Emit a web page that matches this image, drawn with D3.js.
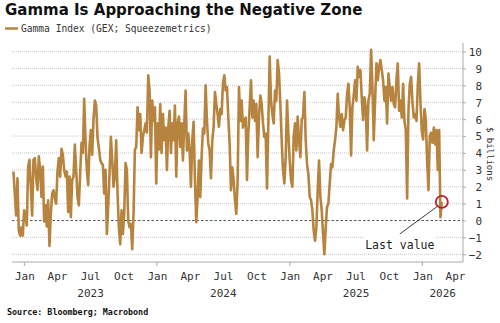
<!DOCTYPE html>
<html>
<head>
<meta charset="utf-8">
<script src="https://cdn.jsdelivr.net/npm/d3@7"></script>
<style>
  body { margin: 0; background: #fff; }
  svg { display: block; }
</style>
</head>
<body>
<script>
// Gamma index, $ billions at regular steps
var startDate = new Date(2022, 11, 2);
var stepDays = 3.675;
var gexValues = [
    2.9, 1.6, 0.3, 2.5, -0.6, -0.9, -0.4, -0.9, 0.6, 0.3, -0.3, 3.2, 3.6, 2.0, 0.3, 3.6, 3.7, 2.5,
    1.8, 3.8, 3.0, 1.4, 3.2, -0.05, 0.9, -0.35, 1.2, -1.5, 0.4, 1.6, 1.8, 1.3, 1.0, 2.9, 3.7, 2.6,
    4.25, 3.9, 3.0, 2.6, 2.9, 0.5, 2.6, 0.2, 2.4, 2.6, 4.5, 3.0, 1.4, 0.9, 2.8, 4.6, 4.0, 7.2,
    4.75, 3.0, 2.1, 4.4, 5.35, 3.9, 6.0, 7.1, 6.8, 4.9, 4.3, 3.6, 3.4, 3.3, 1.6, 3.0, -0.8, 0.8,
    2.8, 4.95, 3.6, 2.0, 2.6, 4.75, 1.6, -0.4, -1.4, 0.6, -0.8, 0.4, 3.4, 3.0, 0.0, -0.4, -0.2, -1.7,
    0.4, 4.2, 4.35, 6.7, 5.35, 6.3, 4.0, 4.95, 5.35, 5.75, 5.2, 8.6, 7.7, 3.75, 7.1, 5.9, 6.7, 2.2,
    5.75, 4.2,
    6.9, 4.0, 6.3, 4.75, 5.5, 3.0, 5.5, 6.5, 4.0, 5.75, 4.75, 6.8, 2.6, 5.75, 6.15, 4.35, 5.75, 3.55,
    5.75, 7.7, 4.15, 5.15, 4.15, 2.0, 4.75, 5.85, 2.4, -0.1, 1.4, 3.55, 1.4, 3.75, 5.45, 5.15, 8.0, 5.9,
    4.55, 4.15, 2.5, 4.75, 5.55, 7.6, 6.9, 6.3, 5.55, 6.6, 6.3, 8.1, 8.6, 7.7, 7.9, 6.1, 4.55, 1.8,
    3.15, 2.4, 1.2, 0.4, 2.4, 7.9,
    5.9, 7.1, 5.5, 5.9, 6.1, 2.4, 5.15, 6.7, 8.3, 6.1, 7.1, 5.9, 6.9, 3.75, 6.1, 7.4, 6.9, 5.75,
    4.95, 5.15, 1.9, 5.75, 9.7, 7.1, 6.3, 5.75, 7.7, 7.1, 9.5, 8.7, 6.9, 4.75, 2.95, 2.2, 3.75, 7.1,
    5.15, 3.55, 2.4, 2.0, 4.95, 5.75, 4.15, 6.15, 4.75, 3.75, 5.95, 6.15, 7.6, 4.75, 3.35, 2.75, 1.4, 1.2,
    0.6, -0.6,
    -1.2, -0.4, 1.8, 3.55, 1.4, 0.6, -0.8, -2.0, -0.4, 0.8, 1.0, 2.2, 3.35, 3.15, 4.15, 4.75, 5.55, 7.5,
    6.1, 5.55, 6.3, 5.35, 5.95, 6.1, 7.5, 8.1, 6.7, 3.85, 6.7, 7.4, 8.3, 7.1, 9.1, 8.5, 8.9, 7.3,
    5.95, 7.3, 6.7, 4.15, 7.1, 7.5, 10.1, 7.9, 4.75, 7.1, 9.3, 8.3, 9.1, 9.5, 8.9, 8.3, 7.1, 7.9,
    5.75, 8.7, 7.9,
    7.1, 7.9, 6.9, 6.7, 8.3, 9.3, 6.5, 7.1, 6.1, 8.1, 5.9, 5.35, 1.3, 6.5, 8.1, 8.5, 7.0, 6.1,
    6.3, 5.9, 8.0, 9.3, 7.0, 5.3, 4.8, 6.6, 6.0, 3.5, 1.8, 5.0, 5.2, 4.6, 5.5, 4.5, 5.35, 3.0,
    5.35, 0.2, 1.1
];
var monthTicks = ["2023-01-01", "2023-04-01", "2023-07-01", "2023-10-01",
                  "2024-01-01", "2024-04-01", "2024-07-01", "2024-10-01",
                  "2025-01-01", "2025-04-01", "2025-07-01", "2025-10-01",
                  "2026-01-01", "2026-04-01"];
var yearLabels = [2023, 2024, 2025, 2026];
var yTicks = [-2, -1, 0, 1, 2, 3, 4, 5, 6, 7, 8, 9, 10];

var parseDate = d3.timeParse("%Y-%m-%d");
var data = gexValues.map(function(v, i) {
    return {date: new Date(startDate.getTime() + i * stepDays * 864e5), value: v};
});

var W = 500, H = 323;
var mono = "'DejaVu Sans Mono', monospace";
var lineColor = "#b6843e";

var svg = d3.select("body").append("svg")
    .attr("width", W)
    .attr("height", H);

// Scales
var x = d3.scaleTime()
    .domain([new Date(2022, 10, 28), new Date(2026, 3, 23)])
    .range([12, 463]);
var y = d3.scaleLinear()
    .domain([-2, 10])
    .range([254.3, 51.6]);

// Title and legend
svg.append("text")
    .attr("x", 5)
    .attr("y", 15)
    .style("font-family", "'DejaVu Sans', sans-serif")
    .style("font-weight", "bold")
    .style("font-size", "15px")
    .style("fill", "#111")
    .text("Gamma Is Approaching the Negative Zone");

svg.append("line")
    .attr("x1", 5).attr("x2", 18)
    .attr("y1", 28.5).attr("y2", 28.5)
    .style("stroke", lineColor)
    .style("stroke-width", 2.5);

svg.append("text")
    .attr("x", 21)
    .attr("y", 32)
    .style("font-family", mono)
    .style("font-size", "9.6px")
    .style("fill", "#333")
    .text("Gamma Index (GEX; Squeezemetrics)");

// Gridlines
svg.append("g").selectAll("line")
    .data(yTicks.filter(function(d) { return d !== 0; }))
    .enter().append("line")
    .attr("x1", 12).attr("x2", 463)
    .attr("y1", function(d) { return y(d); })
    .attr("y2", function(d) { return y(d); })
    .style("stroke", "#c8c8c8")
    .style("stroke-width", 1)
    .style("stroke-dasharray", "1,1");

// Zero line
svg.append("line")
    .attr("x1", 12).attr("x2", 463)
    .attr("y1", y(0)).attr("y2", y(0))
    .style("stroke", "#555")
    .style("stroke-width", 1)
    .style("stroke-dasharray", "2.5,2");

// Frame: bottom and right
svg.append("line")
    .attr("x1", 12).attr("x2", 463)
    .attr("y1", 262).attr("y2", 262)
    .style("stroke", "#aaa");
svg.append("line")
    .attr("x1", 463).attr("x2", 463)
    .attr("y1", 43).attr("y2", 262)
    .style("stroke", "#aaa");

// Right axis
var yAxis = svg.append("g")
    .attr("transform", "translate(463,0)")
    .call(d3.axisRight(y).tickValues(yTicks).tickSize(3).tickFormat(d3.format("d")));
yAxis.select(".domain").remove();
yAxis.selectAll("line").style("stroke", "#aaa");
yAxis.selectAll("text")
    .attr("x", 19)
    .attr("dy", "0.35em")
    .style("text-anchor", "end")
    .style("font-family", mono)
    .style("font-size", "11px")
    .style("fill", "#333");

svg.append("text")
    .attr("transform", "translate(487,154) rotate(90)")
    .style("text-anchor", "middle")
    .style("font-family", mono)
    .style("font-size", "9px")
    .style("fill", "#333")
    .text("$ billions");

// Bottom axis: month labels
var xAxis = svg.append("g")
    .attr("transform", "translate(0,262)")
    .call(d3.axisBottom(x)
        .tickValues(monthTicks.map(parseDate))
        .tickSize(0)
        .tickPadding(10)
        .tickFormat(d3.timeFormat("%b")));
xAxis.select(".domain").remove();
xAxis.selectAll("text")
    .style("font-family", mono)
    .style("font-size", "11px")
    .style("fill", "#333");

// Year boundary ticks
svg.append("g").selectAll("line")
    .data(yearLabels)
    .enter().append("line")
    .attr("x1", function(d) { return x(new Date(d, 0, 1)); })
    .attr("x2", function(d) { return x(new Date(d, 0, 1)); })
    .attr("y1", 262).attr("y2", 266)
    .style("stroke", "#aaa");

// Year labels centred on the visible part of each year
var xd = x.domain();
svg.append("g").selectAll("text")
    .data(yearLabels)
    .enter().append("text")
    .attr("x", function(d) {
        var a = Math.max(+new Date(d, 0, 1), +xd[0]);
        var b = Math.min(+new Date(d + 1, 0, 1), +xd[1]);
        return (x(new Date(a)) + x(new Date(b))) / 2;
    })
    .attr("y", 297)
    .style("text-anchor", "middle")
    .style("font-family", mono)
    .style("font-size", "11px")
    .style("fill", "#333")
    .text(function(d) { return d; });

// Series line
var line = d3.line()
    .x(function(d) { return x(d.date); })
    .y(function(d) { return y(d.value); });

svg.append("path")
    .datum(data)
    .attr("d", line)
    .style("fill", "none")
    .style("stroke", lineColor)
    .style("stroke-width", 2.6)
    .style("stroke-linejoin", "round");

// Last value annotation
var last = data[data.length - 1];
var lx = x(last.date), ly = y(last.value);

svg.append("line")
    .attr("x1", lx - 4.5).attr("y1", ly + 4.5)
    .attr("x2", lx - 42).attr("y2", ly + 32)
    .style("stroke", "#222")
    .style("stroke-width", 0.9);

svg.append("rect")
    .attr("x", lx - 78).attr("y", ly + 34)
    .attr("width", 72).attr("height", 15)
    .style("fill", "#fff");

svg.append("text")
    .attr("x", lx - 42)
    .attr("y", ly + 47)
    .style("text-anchor", "middle")
    .style("font-family", mono)
    .style("font-size", "11.5px")
    .style("fill", "#222")
    .text("Last value");

svg.append("circle")
    .attr("cx", lx).attr("cy", ly)
    .attr("r", 6)
    .style("fill", "none")
    .style("stroke", "#b8202a")
    .style("stroke-width", 1.8);

// Source
svg.append("text")
    .attr("x", 7)
    .attr("y", 315)
    .style("font-family", mono)
    .style("font-weight", "bold")
    .style("font-size", "8.4px")
    .style("fill", "#111")
    .text("Source: Bloomberg; Macrobond");
</script>
</body>
</html>
